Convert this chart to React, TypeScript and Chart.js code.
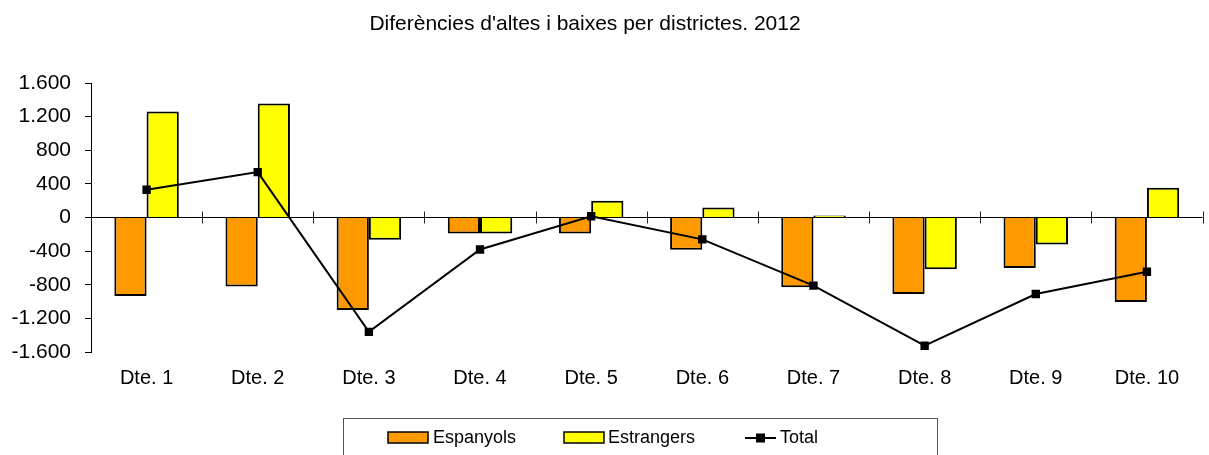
import React, { useEffect, useRef } from "react";
import { Chart, registerables } from "chart.js";

Chart.register(...registerables);

const categories = ["Dte. 1", "Dte. 2", "Dte. 3", "Dte. 4", "Dte. 5", "Dte. 6", "Dte. 7", "Dte. 8", "Dte. 9", "Dte. 10"];
const espanyols = [-935, -820, -1100, -190, -190, -385, -830, -910, -600, -1005];
const estrangers = [1260, 1355, -265, -190, 200, 120, 25, -615, -320, 355];
const total = [330, 540, -1360, -380, 15, -260, -810, -1525, -910, -645];
const yMin = -1600;
const yMax = 1600;
const yStep = 400;
const titleText = "Diferències d'altes i baixes per districtes. 2012";
const seriesNames = ["Espanyols", "Estrangers", "Total"];

const FONT = "'Liberation Sans', Arial, sans-serif";

const fmt = (v: number) => {
  const s = Math.abs(v).toString().replace(/\B(?=(\d{3})+(?!\d))/g, ".");
  return (v < 0 ? "-" : "") + s;
};

const decorPlugin = {
  id: "decor",
  afterDraw(chart: any) {
    const { ctx } = chart;
    const x = chart.scales.x;
    const y = chart.scales.y;
    ctx.save();
    // title
    ctx.fillStyle = "#000";
    ctx.font = `21px ${FONT}`;
    ctx.textAlign = "center";
    ctx.textBaseline = "middle";
    ctx.fillText(titleText, 585, 24);

    // ticks crossing the zero line at category boundaries
    const y0 = y.getPixelForValue(0);
    const n = categories.length;
    const step = n > 1 ? x.getPixelForValue(1) - x.getPixelForValue(0) : 0;
    ctx.strokeStyle = "#222";
    ctx.lineWidth = 1;
    for (let i = 1; i <= n; i++) {
      const px = Math.round(x.getPixelForValue(i) - step / 2) + 0.5;
      ctx.beginPath();
      ctx.moveTo(px, y0 - 6);
      ctx.lineTo(px, y0 + 6);
      ctx.stroke();
    }

    // legend box
    ctx.strokeStyle = "#555";
    ctx.lineWidth = 1;
    ctx.strokeRect(343.5, 418.5, 594, 60);

    const ly = 438;
    ctx.font = `18px ${FONT}`;
    ctx.textAlign = "left";
    ctx.textBaseline = "middle";
    const ds = chart.data.datasets;
    // Espanyols
    ctx.fillStyle = ds[0].backgroundColor;
    ctx.fillRect(388, 432, 40, 11);
    ctx.strokeStyle = "#000";
    ctx.lineWidth = 1.5;
    ctx.strokeRect(388, 432, 40, 11);
    ctx.fillStyle = "#000";
    ctx.fillText(seriesNames[0], 433, ly);
    // Total-free helper for Estrangers
    ctx.fillStyle = ds[1].backgroundColor;
    ctx.fillRect(564, 432, 40, 11);
    ctx.strokeRect(564, 432, 40, 11);
    ctx.fillStyle = "#000";
    ctx.fillText(seriesNames[1], 608, ly);
    // Total
    ctx.lineWidth = 2;
    ctx.beginPath();
    ctx.moveTo(745, ly);
    ctx.lineTo(776, ly);
    ctx.stroke();
    ctx.fillRect(756, ly - 4.5, 9, 9);
    ctx.fillText(seriesNames[2], 780, ly);
    ctx.restore();
  },
};

export default function App() {
  const ref = useRef<HTMLCanvasElement | null>(null);

  useEffect(() => {
    document.body.style.margin = "0";
    if (!ref.current) return;
    const chart = new Chart(ref.current, {
      type: "bar",
      data: {
        labels: categories,
        datasets: [
          {
            type: "bar",
            label: seriesNames[0],
            data: espanyols,
            backgroundColor: "#FF9900",
            borderColor: "#000",
            borderWidth: 2,
            order: 2,
          },
          {
            type: "bar",
            label: seriesNames[1],
            data: estrangers,
            backgroundColor: "#FFFF00",
            borderColor: "#000",
            borderWidth: 2,
            order: 2,
          },
          {
            type: "line",
            label: seriesNames[2],
            data: total,
            borderColor: "#000",
            backgroundColor: "#000",
            borderWidth: 2,
            pointStyle: "rect",
            pointRadius: 4.5,
            pointBackgroundColor: "#000",
            pointBorderColor: "#000",
            tension: 0,
            order: 0,
          } as any,
        ],
      },
      options: {
        responsive: false,
        animation: false,
        devicePixelRatio: 1,
        layout: { padding: { top: 83, left: 0, right: 4, bottom: 0 } },
        datasets: {
          bar: { categoryPercentage: 0.58, barPercentage: 1 },
        },
        plugins: {
          legend: { display: false },
          title: { display: false },
          tooltip: { enabled: false },
        },
        scales: {
          x: {
            grid: { display: false, drawTicks: false },
            border: { display: false },
            ticks: {
              color: "#000",
              font: { family: FONT, size: 20 },
              padding: 14,
              maxRotation: 0,
              autoSkip: false,
            },
            afterFit: (s: any) => {
              s.height = 103;
            },
          },
          y: {
            min: yMin,
            max: yMax,
            border: { display: true, color: "#000", width: 1 },
            grid: {
              drawOnChartArea: true,
              drawTicks: true,
              tickLength: 6,
              tickColor: "#000",
              color: (c: any) => (c.tick && c.tick.value === 0 ? "#000" : "rgba(0,0,0,0)"),
            },
            ticks: {
              stepSize: yStep,
              color: "#000",
              font: { family: FONT, size: 21 },
              padding: 14,
              callback: (v: any) => fmt(Number(v)),
            },
            afterFit: (s: any) => {
              s.width = 91;
            },
          },
        },
      },
      plugins: [decorPlugin],
    });
    return () => chart.destroy();
  }, []);

  return (
    <div style={{ width: 1209, height: 455, background: "#fff" }}>
      <canvas ref={ref} width={1209} height={455} style={{ display: "block" }} />
    </div>
  );
}
